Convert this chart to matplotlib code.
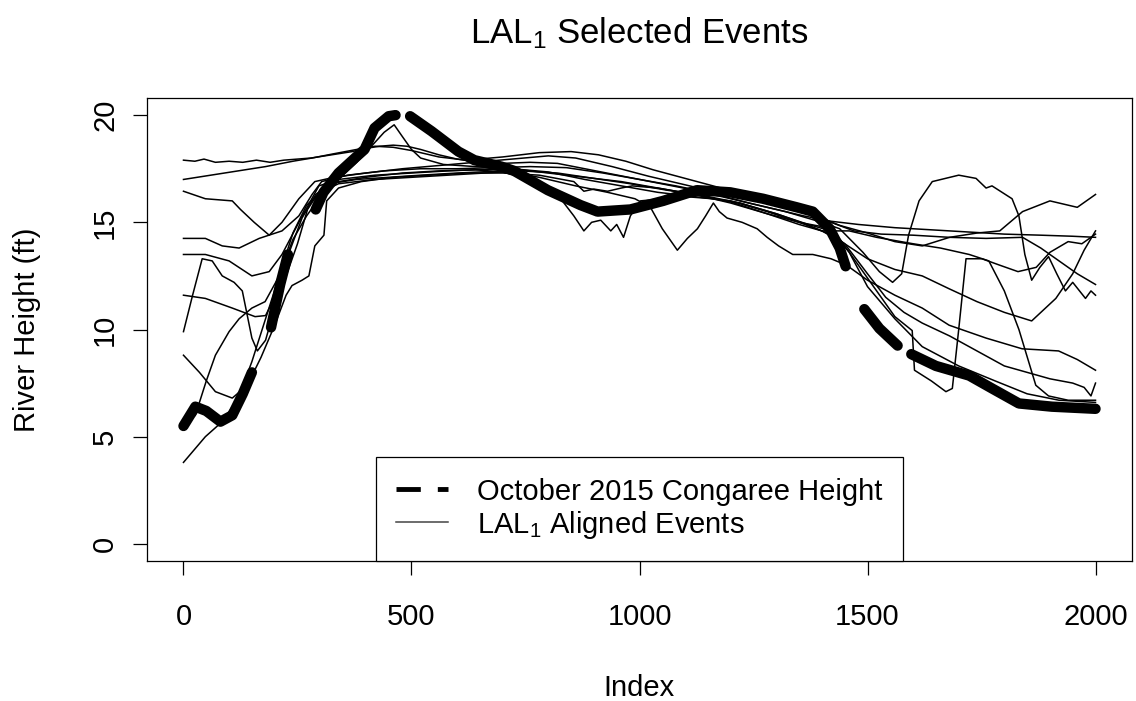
import numpy as np
import matplotlib
matplotlib.use("Agg")
import matplotlib.pyplot as plt
from matplotlib.lines import Line2D

plt.rcParams['font.family'] = ['Liberation Sans', 'DejaVu Sans']
plt.rcParams['mathtext.fontset'] = 'custom'
plt.rcParams['mathtext.rm'] = 'Liberation Sans'
plt.rcParams['mathtext.it'] = 'Liberation Sans:italic'

# October 2015 Congaree height (None = gap in the record)
oct2015 = [(0, 5.5), (26, 6.4), (50, 6.2), (81, 5.7), (107, 6.0), (130, 7.0), (150, 8.0), None,
           (192, 10.1), (212, 12.1), (229, 13.5), None,
           (290, 15.6), (307, 16.4), (340, 17.3), (376, 18.0), (397, 18.4), (419, 19.4), (450, 19.95),
           (465, 20.0), None,
           (497, 19.95), (544, 19.25), (603, 18.3), (638, 17.9), (697, 17.6), (725, 17.4), (799, 16.5),
           (871, 15.8), (908, 15.5), (980, 15.6), (1052, 16.0), (1126, 16.5), (1199, 16.4), (1271, 16.1),
           (1345, 15.7), (1380, 15.5), (1417, 14.7), (1439, 13.8), (1452, 12.95), None,
           (1493, 10.95), (1526, 10.05), (1566, 9.25), None,
           (1596, 8.85), (1650, 8.3), (1723, 7.85), (1773, 7.25), (1832, 6.55), (1904, 6.4), (2000, 6.3)]

# LAL1 aligned events
ev1 = [(0, 17.9), (25, 17.85), (45, 17.95), (70, 17.8), (100, 17.85), (130, 17.8), (160, 17.9), (190, 17.8),
       (220, 17.9), (250, 17.95), (280, 18.0), (310, 18.1), (340, 18.2), (370, 18.3), (400, 18.45), (430, 18.55),
       (460, 18.6), (490, 18.55), (520, 18.4), (560, 18.15), (600, 17.95), (650, 17.8), (700, 17.75), (760, 17.8),
       (820, 17.75), (880, 17.5), (940, 17.25), (1000, 17.0), (1060, 16.75), (1120, 16.5), (1180, 16.2),
       (1240, 15.9), (1300, 15.6), (1360, 15.3), (1420, 15.05), (1480, 14.9), (1560, 14.75), (1640, 14.65),
       (1720, 14.55), (1800, 14.45), (1880, 14.4), (1950, 14.35), (2000, 14.3)]
ev2 = [(0, 17.0), (60, 17.2), (120, 17.4), (180, 17.6), (240, 17.85), (282, 18.0), (330, 18.2), (380, 18.4),
       (420, 18.55), (460, 18.5), (500, 18.35), (560, 18.05), (620, 17.9), (700, 18.05), (780, 18.25), (850, 18.3),
       (910, 18.15), (970, 17.85), (1030, 17.45), (1100, 17.05), (1170, 16.65), (1240, 16.25), (1310, 15.85),
       (1380, 15.35), (1440, 14.85), (1500, 14.5), (1560, 14.1), (1620, 13.9), (1680, 14.3), (1740, 14.5),
       (1790, 14.6), (1840, 15.5), (1900, 16.0), (1960, 15.7), (2000, 16.3)]
ev3 = [(0, 16.45), (48, 16.1), (107, 16.0), (125, 15.6), (155, 15.0), (188, 14.4), (216, 15.0), (253, 16.1),
       (288, 16.9), (330, 17.1), (400, 17.3), (480, 17.5), (560, 17.65), (640, 17.8), (720, 17.95), (800, 18.1),
       (860, 18.0), (940, 17.6), (1020, 17.15), (1100, 16.75), (1180, 16.35), (1260, 16.0), (1340, 15.6),
       (1420, 15.0), (1470, 14.6), (1530, 14.45), (1600, 14.4), (1680, 14.3), (1760, 14.25), (1840, 14.3),
       (1880, 13.8), (1920, 13.2), (1960, 12.6), (2000, 12.1)]
ev4 = [(0, 14.25), (48, 14.25), (85, 13.9), (122, 13.8), (166, 14.25), (216, 14.6), (253, 15.3), (282, 16.3),
       (303, 16.9), (360, 17.2), (440, 17.4), (520, 17.5), (600, 17.5), (680, 17.55), (760, 17.6), (840, 17.55),
       (920, 17.3), (1000, 17.0), (1080, 16.7), (1160, 16.35), (1240, 15.9), (1320, 15.5), (1400, 15.0),
       (1439, 14.7), (1490, 13.6), (1526, 12.7), (1555, 12.2), (1575, 12.6), (1590, 14.4), (1613, 16.0),
       (1642, 16.9), (1700, 17.2), (1738, 17.05), (1760, 16.6), (1773, 16.7), (1817, 16.1), (1832, 15.3),
       (1845, 13.5), (1860, 12.3), (1878, 12.9), (1897, 13.4), (1915, 12.6), (1934, 11.8), (1950, 12.2),
       (1978, 11.45), (1990, 11.8), (2000, 11.6)]
ev5 = [(0, 13.5), (48, 13.5), (100, 13.2), (150, 12.5), (188, 12.7), (216, 13.5), (253, 15.0), (297, 16.7),
       (340, 17.0), (420, 17.2), (500, 17.3), (580, 17.4), (640, 17.45), (700, 17.35), (760, 17.0), (820, 16.3),
       (856, 15.3), (878, 14.6), (895, 15.0), (915, 15.1), (937, 14.6), (950, 14.9), (965, 14.3), (980, 15.3),
       (1002, 16.0), (1050, 16.1), (1100, 16.2), (1160, 16.1), (1220, 15.9), (1300, 15.4), (1360, 14.95),
       (1400, 14.6), (1450, 14.0), (1500, 13.3), (1560, 12.8), (1620, 12.5), (1679, 11.9), (1740, 11.3),
       (1800, 10.8), (1860, 10.4), (1913, 11.45), (1950, 12.6), (1975, 13.7), (2000, 14.6)]
ev6 = [(0, 11.6), (48, 11.45), (107, 11.0), (157, 10.6), (180, 10.65), (200, 11.5), (230, 13.5), (260, 15.2),
       (290, 16.3), (320, 16.8), (380, 17.0), (450, 17.1), (520, 17.2), (600, 17.3), (700, 17.4), (780, 17.1),
       (860, 16.7), (930, 16.4), (990, 16.1), (1024, 15.7), (1050, 14.7), (1083, 13.7), (1095, 14.0),
       (1105, 14.25), (1127, 14.7), (1145, 15.3), (1162, 15.9), (1175, 15.5), (1192, 15.2), (1225, 15.0),
       (1258, 14.7), (1280, 14.3), (1305, 13.9), (1336, 13.5), (1380, 13.5), (1420, 13.3), (1454, 13.0),
       (1500, 12.3), (1560, 11.6), (1620, 11.0), (1679, 10.2), (1760, 9.6), (1839, 9.1), (1919, 9.0),
       (1960, 8.6), (2000, 8.1)]
ev7 = [(0, 9.9), (20, 11.6), (41, 13.3), (63, 13.2), (85, 12.5), (111, 12.2), (129, 11.8), (150, 9.6),
       (162, 9.0), (180, 9.5), (200, 11.0), (225, 12.5), (250, 14.0), (272, 15.6), (300, 16.5), (340, 16.9),
       (400, 17.1), (480, 17.3), (560, 17.4), (640, 17.45), (720, 17.5), (800, 17.35), (880, 17.0), (960, 16.7),
       (1040, 16.4), (1120, 16.2), (1200, 16.0), (1280, 15.5), (1350, 15.0), (1400, 14.6), (1440, 14.2),
       (1480, 13.0), (1520, 11.8), (1560, 10.6), (1598, 9.95), (1603, 8.1), (1640, 7.6), (1672, 7.1),
       (1686, 7.25), (1700, 10.0), (1716, 13.3), (1751, 13.3), (1790, 13.0), (1830, 12.7), (1870, 12.9),
       (1900, 13.6), (1940, 14.1), (1970, 14.0), (2000, 14.45)]
ev8 = [(0, 8.8), (35, 8.0), (70, 7.1), (107, 6.8), (140, 7.4), (170, 8.7), (200, 10.2), (225, 11.6),
       (238, 12.05), (260, 12.3), (275, 12.5), (288, 13.9), (300, 14.2), (308, 14.4), (314, 16.0), (340, 16.6),
       (390, 16.9), (460, 17.1), (540, 17.2), (620, 17.3), (700, 17.3), (780, 17.2), (856, 16.9), (878, 16.45),
       (900, 16.55), (930, 16.45), (960, 16.6), (984, 16.7), (1040, 16.6), (1120, 16.3), (1200, 15.9),
       (1280, 15.4), (1350, 15.0), (1400, 14.8), (1450, 14.0), (1500, 12.6), (1540, 11.5), (1580, 10.8),
       (1620, 10.3), (1680, 9.7), (1740, 9.0), (1800, 8.3), (1850, 8.0), (1900, 7.7), (1950, 7.5),
       (1975, 7.3), (1990, 6.9), (2000, 7.5)]
ev9 = [(0, 3.8), (20, 4.3), (48, 5.0), (85, 5.7), (120, 6.8), (150, 8.5), (180, 10.5), (210, 12.5),
       (240, 14.2), (270, 15.3), (300, 16.2), (340, 17.0), (380, 17.8), (410, 18.5), (440, 19.2), (462, 19.55),
       (480, 19.0), (500, 18.4), (520, 18.0), (570, 17.7), (640, 17.6), (720, 17.5), (800, 17.3), (880, 17.1),
       (960, 16.9), (1040, 16.6), (1120, 16.3), (1200, 15.95), (1280, 15.4), (1350, 14.9), (1400, 14.6),
       (1460, 14.6), (1520, 14.3), (1600, 14.0), (1660, 13.8), (1723, 13.5), (1766, 13.2), (1800, 11.8),
       (1832, 10.0), (1869, 7.4), (1897, 6.9), (1940, 6.7), (2000, 6.7)]
ev10 = [(0, 5.6), (26, 6.0), (50, 7.6), (70, 8.8), (100, 9.9), (122, 10.5), (150, 11.0), (179, 11.3),
        (210, 12.5), (240, 14.5), (270, 15.8), (300, 16.4), (340, 16.8), (420, 17.0), (500, 17.1), (580, 17.2),
        (660, 17.3), (740, 17.4), (820, 17.3), (900, 17.05), (980, 16.8), (1060, 16.5), (1140, 16.25),
        (1220, 15.9), (1300, 15.4), (1370, 14.9), (1420, 14.6), (1460, 13.6), (1500, 12.0), (1560, 10.5),
        (1620, 9.2), (1700, 8.3), (1780, 7.6), (1850, 7.0), (1920, 6.7), (2000, 6.6)]
events = [ev1, ev2, ev3, ev4, ev5, ev6, ev7, ev8, ev9, ev10]

x_ticks = [0, 500, 1000, 1500, 2000]
y_ticks = [0, 5, 10, 15, 20]


def to_xy(pts):
    x = np.array([np.nan if p is None else p[0] for p in pts], dtype=float)
    y = np.array([np.nan if p is None else p[1] for p in pts], dtype=float)
    return x, y


fig = plt.figure(figsize=(11.36, 7.01), dpi=100)
ax = fig.add_axes([147 / 1136, 1 - 561 / 701, (1132 - 147) / 1136, (561 - 98) / 701])

for ev in events:
    x, y = to_xy(ev)
    ax.plot(x, y, color='black', lw=1.1)

x, y = to_xy(oct2015)
ax.plot(x, y, color='black', lw=7.5, solid_capstyle='round', solid_joinstyle='round')

ax.set_xlim(-80, 2080)
ax.set_ylim(-0.8, 20.8)
ax.set_xticks(x_ticks)
ax.set_yticks(y_ticks)
ax.set_yticklabels([str(v) for v in y_ticks], rotation=90, va='center')
ax.tick_params(direction='out', length=10, width=0.9, labelsize=21, colors='black')
ax.tick_params(axis='x', pad=20)
ax.tick_params(axis='y', pad=10)
for s in ax.spines.values():
    s.set_linewidth(0.9)

ax.set_xlabel('Index', fontsize=21, labelpad=31)
ax.set_ylabel('River Height (ft)', fontsize=21, labelpad=36)
fig.text((147 + 1132) / 2 / 1136, 1 - 33 / 701, 'LAL$_1$ Selected Events',
         ha='center', va='center', fontsize=25)

handles = [Line2D([], [], color='black', lw=3.5, ls=(0, (5, 3.5)), dash_capstyle='butt'),
           Line2D([], [], color='#444444', lw=1.1)]
leg = ax.legend(handles, ['October 2015 Congaree Height', 'LAL$_1$ Aligned Events'],
                loc='lower center', bbox_to_anchor=(0.5, 0.0), borderaxespad=0, fontsize=21,
                frameon=True, fancybox=False, edgecolor='black', framealpha=1,
                handlelength=1.78, handletextpad=1.0, labelspacing=0.1, borderpad=0.7)
leg.get_frame().set_linewidth(0.9)

fig.savefig('out.png', dpi=100)
